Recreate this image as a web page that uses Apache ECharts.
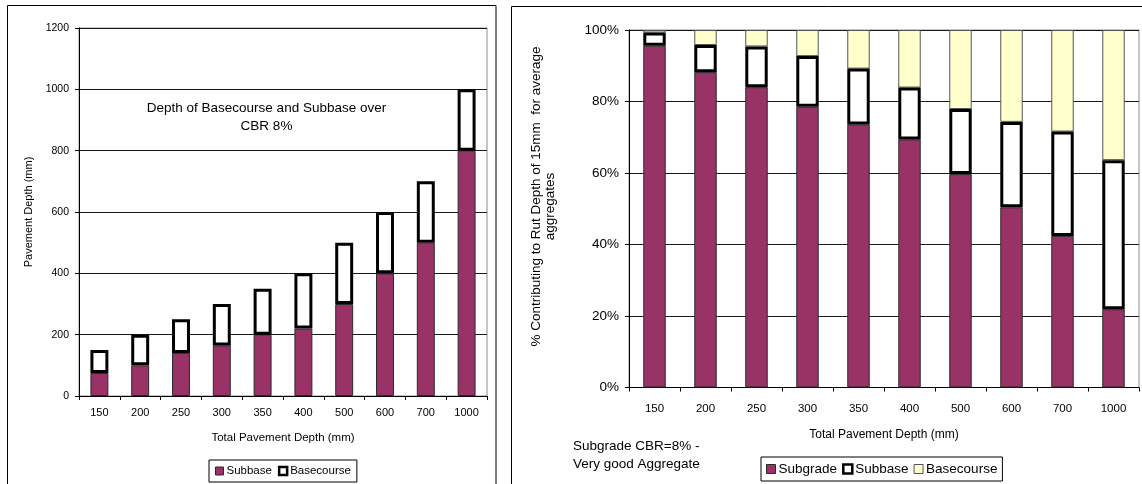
<!DOCTYPE html>
<html>
<head>
<meta charset="utf-8">
<script src="https://cdn.jsdelivr.net/npm/echarts@6/dist/echarts.min.js"></script>
<style>
  html, body { margin: 0; padding: 0; background: #fff; }
  #depth { position: absolute; left: 0; top: 0; width: 502px; height: 484px; }
  #share { position: absolute; left: 502px; top: 0; width: 640px; height: 484px; }
</style>
</head>
<body>
<div id="depth"></div>
<div id="share"></div>
<script>
// Total pavement depth categories (mm)
const categories = ['150', '200', '250', '300', '350', '400', '500', '600', '700', '1000'];

// Layer depths over CBR 8% subgrade (mm)
const subbaseDepth    = [75, 100, 140, 165, 200, 220, 300, 400, 500, 800];
const basecourseDepth = [75, 100, 110, 135, 150, 180, 200, 200, 200, 200];

// Share of 15 mm rut depth contributed by each layer (%)
const subgradePct   = [95.6, 88.2, 84.0, 78.5, 73.6, 69.4, 59.7, 50.4, 42.4, 21.9];
const subbasePct    = [3.7, 7.6, 11.4, 14.2, 15.6, 14.5, 18.2, 23.9, 29.2, 41.7];
const basecoursePct = [0.7, 4.2, 4.6, 7.3, 10.8, 16.1, 22.1, 25.7, 28.4, 36.4];

const FONT = "'Liberation Sans', Arial, sans-serif";
const PURPLE = '#993366';
const PALE = '#FFFFCC';

const purpleStyle = { color: PURPLE, borderColor: '#2a2a2a', borderWidth: 1 };
const boxStyle = { color: '#ffffff', borderColor: '#000000', borderWidth: 3 };
const paleStyle = { color: PALE, borderColor: '#555555', borderWidth: 1 };

function catAxis(fontSize, margin, nameGap) {
  return {
    type: 'category',
    data: categories,
    name: 'Total Pavement Depth (mm)',
    nameLocation: 'middle',
    nameGap: nameGap,
    nameTextStyle: { fontFamily: FONT, fontSize: fontSize + 0.5, color: '#000' },
    axisLine: { lineStyle: { color: '#000', width: 1 } },
    axisTick: { show: true, alignWithLabel: false, length: 4, lineStyle: { color: '#000' } },
    axisLabel: { fontFamily: FONT, fontSize: fontSize, color: '#000', margin: margin, interval: 0 },
    splitLine: { show: false }
  };
}

// ---- Left: layer depths ----
const depthChart = echarts.init(document.getElementById('depth'), null, { renderer: 'canvas' });
depthChart.setOption({
  backgroundColor: '#ffffff',
  animation: false,
  grid: {
    left: 79, top: 28, width: 408, height: 368,
    show: true, borderColor: '#8c8c8c', borderWidth: 1, backgroundColor: 'transparent'
  },
  xAxis: catAxis(11, 11, 36),
  yAxis: {
    type: 'value',
    min: 0, max: 1200, interval: 200,
    name: 'Pavement Depth (mm)',
    nameLocation: 'middle',
    nameGap: 32,
    nameTextStyle: { fontFamily: FONT, fontSize: 11, color: '#000' },
    axisLine: { show: true, lineStyle: { color: '#000', width: 1 } },
    axisTick: { show: true, length: 4, lineStyle: { color: '#000' } },
    axisLabel: { fontFamily: FONT, fontSize: 10.5, color: '#000', margin: 10,
                 formatter: v => String(v) },
    splitLine: { show: true, lineStyle: { color: '#1a1a1a', width: 1 } }
  },
  legend: {
    left: 209, top: 460,
    padding: [5, 6, 5, 6],
    itemGap: 6,
    itemWidth: 8, itemHeight: 8,
    icon: 'rect',
    borderColor: '#000', borderWidth: 1,
    textStyle: { fontFamily: FONT, fontSize: 11.5, color: '#000', padding: [0, 0, 0, -2] },
    data: [
      { name: 'Subbase', itemStyle: { color: PURPLE, borderColor: '#2a2a2a', borderWidth: 1 } },
      { name: 'Basecourse', itemStyle: { color: '#fff', borderColor: '#000', borderWidth: 2.5 } }
    ]
  },
  series: [
    { name: 'Subbase', type: 'bar', stack: 'depth', data: subbaseDepth,
      barCategoryGap: '56%', itemStyle: purpleStyle, z: 2 },
    { name: 'Basecourse', type: 'bar', stack: 'depth', data: basecourseDepth,
      barCategoryGap: '56%', itemStyle: boxStyle, z: 3 }
  ],
  graphic: [
    { type: 'rect', silent: true, z: -1,
      shape: { x: 7.5, y: 5.5, width: 488.5, height: 520 },
      style: { fill: 'none', stroke: '#000', lineWidth: 1 } },
    { type: 'text', silent: true, x: 266.5, y: 117.5,
      style: { text: 'Depth of Basecourse and Subbase over\nCBR 8%', fill: '#000',
               font: '13.5px ' + FONT, align: 'center', verticalAlign: 'middle', lineHeight: 18.5 } }
  ]
});

// ---- Right: share of rut depth ----
const shareChart = echarts.init(document.getElementById('share'), null, { renderer: 'canvas' });
shareChart.setOption({
  backgroundColor: '#ffffff',
  animation: false,
  grid: {
    left: 127, top: 30, width: 510, height: 357.5,
    show: true, borderColor: '#8c8c8c', borderWidth: 1, backgroundColor: 'transparent'
  },
  xAxis: catAxis(11.5, 15, 41),
  yAxis: {
    type: 'value',
    min: 0, max: 100, interval: 20,
    axisLine: { show: true, lineStyle: { color: '#000', width: 1 } },
    axisTick: { show: true, length: 4, lineStyle: { color: '#000' } },
    axisLabel: { fontFamily: FONT, fontSize: 13.5, color: '#000', margin: 10,
                 formatter: v => v + '%' },
    splitLine: { show: true, lineStyle: { color: '#1a1a1a', width: 1 } }
  },
  legend: {
    left: 259, top: 457,
    padding: [5, 5, 5, 5],
    itemGap: 5,
    itemWidth: 9, itemHeight: 9,
    icon: 'rect',
    borderColor: '#000', borderWidth: 1,
    textStyle: { fontFamily: FONT, fontSize: 13.5, color: '#000', padding: [0, 0, 0, -2] },
    data: [
      { name: 'Subgrade', itemStyle: { color: PURPLE, borderColor: '#2a2a2a', borderWidth: 1 } },
      { name: 'Subbase', itemStyle: { color: '#fff', borderColor: '#000', borderWidth: 2.5 } },
      { name: 'Basecourse', itemStyle: { color: PALE, borderColor: '#555', borderWidth: 1 } }
    ]
  },
  series: [
    { name: 'Subgrade', type: 'bar', stack: 'share', data: subgradePct,
      barCategoryGap: '56%', itemStyle: purpleStyle, z: 2 },
    { name: 'Subbase', type: 'bar', stack: 'share', data: subbasePct,
      barCategoryGap: '56%', itemStyle: boxStyle, z: 4 },
    { name: 'Basecourse', type: 'bar', stack: 'share', data: basecoursePct,
      barCategoryGap: '56%', itemStyle: paleStyle, z: 3 }
  ],
  graphic: [
    { type: 'rect', silent: true, z: -1,
      shape: { x: 9.5, y: 6.5, width: 700, height: 520 },
      style: { fill: 'none', stroke: '#000', lineWidth: 1 } },
    { type: 'text', silent: true, x: 34, y: 196.5, rotation: Math.PI / 2,
      style: { text: '% Contributing to Rut Depth of 15mm  for average', fill: '#000',
               font: '13.5px ' + FONT, align: 'center', verticalAlign: 'middle' } },
    { type: 'text', silent: true, x: 48, y: 206.5, rotation: Math.PI / 2,
      style: { text: 'aggregates', fill: '#000',
               font: '13.5px ' + FONT, align: 'center', verticalAlign: 'middle' } },
    { type: 'text', silent: true, x: 71, y: 455,
      style: { text: 'Subgrade CBR=8% -\nVery good Aggregate', fill: '#000',
               font: '13.5px ' + FONT, align: 'left', verticalAlign: 'middle', lineHeight: 18 } }
  ]
});
</script>
</body>
</html>
